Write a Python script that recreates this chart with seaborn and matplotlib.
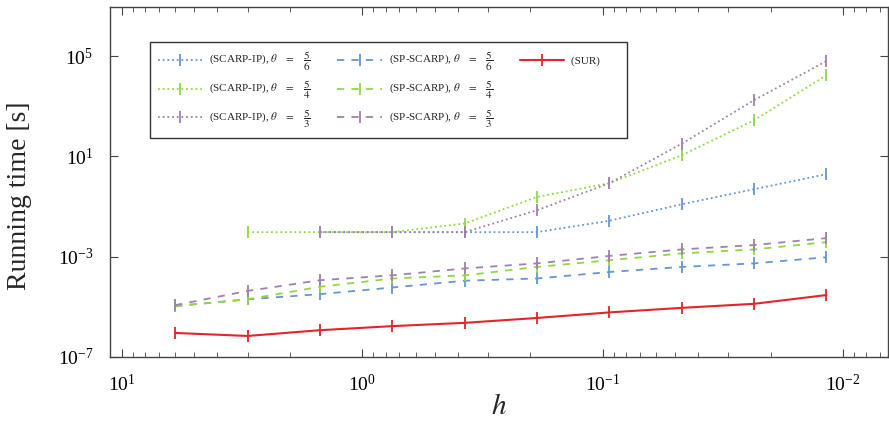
import numpy as np
import pandas as pd
import matplotlib
matplotlib.use("Agg")
import matplotlib.pyplot as plt
import matplotlib.ticker as mticker
from matplotlib.lines import Line2D
import seaborn as sns

# mesh width h (x-axis)
h_values = [6.0, 3.0, 1.5, 0.75, 0.375, 0.1875, 0.09375, 0.046875, 0.0234375, 0.01171875]

# running times [s], nan = no run for that h
scarp_ip_56 = [np.nan, np.nan, 9.5e-3, 9.5e-3, 9.5e-3, 9.5e-3, 2.7e-2, 1.23e-1, 4.9e-1, 1.95]
scarp_ip_54 = [np.nan, 9.5e-3, 9.5e-3, 9.5e-3, 2.1e-2, 2.4e-1, 8.5e-1, 11.0, 275.0, 1.7e4]
scarp_ip_53 = [np.nan, np.nan, 9.5e-3, 9.5e-3, 9.5e-3, 7.1e-2, 8.5e-1, 32.0, 1740.0, 6.3e4]
sp_scarp_56 = [1.07e-5, 2.0e-5, 3.2e-5, 5.9e-5, 1.1e-4, 1.35e-4, 2.45e-4, 3.9e-4, 5.4e-4, 9.5e-4]
sp_scarp_54 = [1.07e-5, 2.0e-5, 6.3e-5, 1.35e-4, 1.8e-4, 3.9e-4, 7.2e-4, 1.35e-3, 1.95e-3, 3.8e-3]
sp_scarp_53 = [1.17e-5, 4.3e-5, 1.15e-4, 1.8e-4, 3.4e-4, 5.4e-4, 1.07e-3, 1.95e-3, 2.9e-3, 5.5e-3]
sur = [9.1e-7, 6.9e-7, 1.17e-6, 1.7e-6, 2.3e-6, 3.6e-6, 6.0e-6, 9.1e-6, 1.32e-5, 2.95e-5]

blue = "#6596D6"
green = "#8FDA3E"
purple = "#A080AE"
red = "#E4242A"

series = [
    (r"(SCARP-IP), $\theta\quad=\quad\dfrac{5}{6}$", scarp_ip_56, blue, (0, (1, 1.6))),
    (r"(SCARP-IP), $\theta\quad=\quad\dfrac{5}{4}$", scarp_ip_54, green, (0, (1, 1.6))),
    (r"(SCARP-IP), $\theta\quad=\quad\dfrac{5}{3}$", scarp_ip_53, purple, (0, (1, 1.6))),
    (r"(SP-SCARP), $\theta\quad=\quad\dfrac{5}{6}$", sp_scarp_56, blue, (0, (4, 4))),
    (r"(SP-SCARP), $\theta\quad=\quad\dfrac{5}{4}$", sp_scarp_54, green, (0, (4, 4))),
    (r"(SP-SCARP), $\theta\quad=\quad\dfrac{5}{3}$", sp_scarp_53, purple, (0, (4, 4))),
    ("(SUR)       ", sur, red, "-"),
]

sns.set_theme(style="ticks")
plt.rcParams["font.family"] = ["Liberation Serif", "DejaVu Serif"]
plt.rcParams["mathtext.fontset"] = "stix"
plt.rcParams["axes.edgecolor"] = "#444444"
plt.rcParams["axes.linewidth"] = 1.0

fig = plt.figure(figsize=(8.89, 4.30), dpi=100)
ax = fig.add_axes([110 / 889, 73 / 430, 778 / 889, 350 / 430])
ax.set_xscale("log")
ax.set_yscale("log")

for label, values, color, ls in series:
    df = pd.DataFrame({"h": h_values, "t": values}).dropna()
    sns.lineplot(
        data=df, x="h", y="t", ax=ax, label=label, color=color,
        linestyle=ls, linewidth=1.5 if ls == "-" else 1.3,
        marker="|", markersize=8, markeredgewidth=1.3,
        markeredgecolor=color, errorbar=None, sort=False,
    )

ax.set_xlim(11.2, 6.5e-3)
ax.set_ylim(1e-7, 9e6)

ax.yaxis.set_major_locator(mticker.FixedLocator([1e-7, 1e-3, 1e1, 1e5]))
ax.yaxis.set_major_formatter(mticker.LogFormatterMathtext())
ax.yaxis.set_minor_locator(mticker.NullLocator())
ax.xaxis.set_major_locator(mticker.LogLocator(base=10))
ax.xaxis.set_minor_locator(mticker.LogLocator(base=10, subs=np.arange(2, 10)))
ax.xaxis.set_minor_formatter(mticker.NullFormatter())

ax.tick_params(which="both", direction="in", top=True, right=True,
               colors="#444444", labelcolor="black", labelsize=14)
ax.tick_params(which="major", length=6, width=0.8, pad=12)
ax.tick_params(which="minor", length=3.5, width=0.6)

ax.set_xlabel(r"$h$", fontsize=21)
ax.set_ylabel("Running time [s]", fontsize=20)
ax.xaxis.set_label_coords(0.5, -0.105)
ax.yaxis.set_label_coords(-0.1, 0.46)

handles, labels = ax.get_legend_handles_labels()
blank = Line2D([], [], linestyle="none")
handles += [blank, blank]
labels += ["", ""]
leg = ax.legend(
    handles, labels, ncol=3, loc="upper left", bbox_to_anchor=(0.051, 0.9),
    borderaxespad=0, fontsize=8, frameon=True, fancybox=False,
    edgecolor="black", handlelength=4.0, handletextpad=0.63,
    columnspacing=2.4, labelspacing=0.5, borderpad=0.72,
)
leg.get_frame().set_linewidth(1.0)

fig.savefig("out.png", dpi=100)
